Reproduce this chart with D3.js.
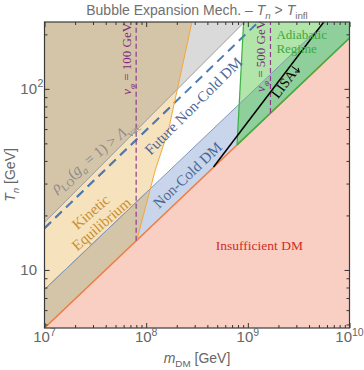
<!DOCTYPE html>
<html>
<head>
<meta charset="utf-8">
<script src="https://cdn.jsdelivr.net/npm/d3@7"></script>
<style>
  body { margin: 0; background: #fff; }
  svg text { font-family: "Liberation Sans", Arial, sans-serif; }
  svg text.serif { font-family: "Liberation Serif", "Times New Roman", serif; }
</style>
</head>
<body>
<svg id="chart" width="364" height="370"></svg>
<script>
// values, [m_DM, T_n] in GeV
const massDomain = [1e7, 1e10];
const tempDomain = [4.78, 234];
const xMajorExp = [7, 8, 9, 10];
const yMajorExp = [1, 2];

const relicLine = [[1e7, 4.78], [1e10, 191]];
const nonColdLine = [[1e7, 7.8], [1e10, 313]];
const vacuumLine = [[1e7, 18.3], [9.4e8, 236]];
const futureLine = [[1e7, 17.0], [1.27e9, 234]];
const kineticLine = [[8.1e7, 14.6], [1.23e8, 35.7], [1.66e8, 59.4], [2.82e8, 234]];
const adiabaticLine = [[7.83e8, 49.1], [9.09e8, 234]];
const lisaLine = [[4.6e8, 37.0], [5.58e9, 234]];
const vphiMasses = [7.97e7, 1.67e9];
const vphiValues = ["100", "500"];

const svg = d3.select("#chart");
const pL = 44.5, pR = 349.5, pT = 22, pB = 328;
const x = d3.scaleLog().domain(massDomain).range([pL, pR]);
const y = d3.scaleLog().domain(tempDomain).range([pB, pT]);
const BIG = 3000, SMALL = 1e6, HUGE = 1e11;

const line = d3.line().x(d => x(d[0])).y(d => y(d[1]));
const poly = pts => line(pts) + "Z";

// T on the relic boundary (straight in log-log)
function relicT(m) {
  const [a, b] = relicLine;
  const s = (Math.log10(b[1]) - Math.log10(a[1])) / (Math.log10(b[0]) - Math.log10(a[0]));
  return Math.pow(10, Math.log10(a[1]) + s * (Math.log10(m) - Math.log10(a[0])));
}

const defs = svg.append("defs");
defs.append("clipPath").attr("id", "plot")
  .append("rect").attr("x", pL).attr("y", pT).attr("width", pR - pL).attr("height", pB - pT);

const aboveRelic = [...relicLine, [1e10, BIG], [1e7, BIG]];
const band = [...relicLine, ...nonColdLine.slice().reverse()];
const vacuumArea = [...vacuumLine, [vacuumLine[1][0], BIG], [SMALL, BIG], [SMALL, vacuumLine[0][1]]];
const kineticArea = [...kineticLine, [kineticLine[3][0], BIG], [1e7, BIG], [1e7, relicT(1e7)]];
const adiabaticArea = [...adiabaticLine, [adiabaticLine[1][0], BIG], [HUGE, BIG], [HUGE, relicT(HUGE)]];

defs.append("clipPath").attr("id", "kin").append("path").attr("d", poly(kineticArea));
defs.append("clipPath").attr("id", "adi").append("path").attr("d", poly(adiabaticArea));

const g = svg.append("g").attr("clip-path", "url(#plot)");

g.append("rect").attr("x", pL).attr("y", pT).attr("width", pR - pL).attr("height", pB - pT)
  .attr("fill", "#f9cfc3");
g.append("path").attr("d", poly(aboveRelic)).attr("fill", "#ffffff");
g.append("path").attr("d", poly(band)).attr("fill", "#c8d5ea");
g.append("path").attr("d", poly(vacuumArea)).attr("fill", "#dadada");
g.append("path").attr("d", poly(kineticArea)).attr("fill", "#f7e2be");

const gk = g.append("g").attr("clip-path", "url(#kin)");
gk.append("path").attr("d", poly(vacuumArea)).attr("fill", "#d4c4a8");
gk.append("path").attr("d", poly(band)).attr("fill", "#d4c4a8");

g.append("path").attr("d", poly(adiabaticArea)).attr("fill", "#b1e5aa");
const ga = g.append("g").attr("clip-path", "url(#adi)");
ga.append("path").attr("d", poly(band)).attr("fill", "#8ecf9b");

// boundary lines
const stroke = (pts, col, w, dash, parent) => (parent || g).append("path").attr("d", line(pts))
  .attr("fill", "none").attr("stroke", col).attr("stroke-width", w).attr("stroke-dasharray", dash || null);

stroke(nonColdLine, "#8397bd", 1);
stroke(nonColdLine, "#a39c90", 1, null, gk);
stroke(vacuumLine, "#9c9c9c", 1);
stroke(futureLine, "#4d7bb3", 2, "9,6");
stroke(futureLine, "#8e8e8e", 2, "9,6", gk);
stroke(relicLine, "#ee7b3f", 1.5);
stroke([[adiabaticLine[0][0], relicT(adiabaticLine[0][0])], relicLine[1]], "#3cb043", 1.5);
stroke(kineticLine, "#f2a63a", 1);
stroke(adiabaticLine, "#3cb043", 1.2);

vphiMasses.forEach(m => {
  stroke([[m, relicT(m)], [m, BIG]], "#8e3b8e", 1.2, "5,3");
});

stroke(lisaLine, "#000", 1.5);

// labels
function rich(sel, parts, fs) {
  let shift = 0;
  parts.forEach(p => {
    const target = p.sub ? fs * 0.3 : (p.sup ? -fs * 0.42 : 0);
    sel.append("tspan").attr("dy", target - shift)
      .attr("font-size", (p.sub || p.sup) ? fs * 0.7 : fs)
      .attr("font-style", p.it ? "italic" : null)
      .text(p.t);
    shift = target;
  });
}

function label(m, T, angle, txt, col, fs, anchor) {
  const t = g.append("text").attr("class", "serif")
    .attr("transform", `translate(${x(m)},${y(T)}) rotate(${angle})`)
    .attr("text-anchor", anchor || "middle").attr("dy", "0.35em")
    .attr("fill", col).attr("font-size", fs);
  if (typeof txt === "string") t.text(txt); else rich(t, txt, fs);
  return t;
}

label(1.30e9, 13.7, 0, "Insufficient DM", "#d42a2a", 13.5);
label(2.54e8, 33.5, -43.5, "Non-Cold DM", "#4b6897", 15);
label(2.90e8, 80.6, -45, "Future Non-Cold DM", "#4b6897", 15);

const kin = g.append("g").attr("transform", `translate(${x(3.21e7)},${y(19.4)}) rotate(-41)`);
kin.append("text").attr("class", "serif").attr("text-anchor", "middle").attr("y", -8).attr("dy", "0.35em")
  .attr("fill", "#c8902f").attr("font-size", 15).text("Kinetic");
kin.append("text").attr("class", "serif").attr("text-anchor", "middle").attr("y", 8).attr("dy", "0.35em")
  .attr("fill", "#c8902f").attr("font-size", 15).text("Equilibrium");

label(3.33e7, 41.0, -39.5, [
  { t: "ρ", it: true }, { t: "LO", sub: true }, { t: "(" }, { t: "g", it: true }, { t: "a", it: true, sub: true },
  { t: " = 1) > " }, { t: "Λ", it: true }, { t: "vac", sub: true }
], "#8a8a8a", 15);

[146.5, 152].forEach((T, i) => {
  const t = g.append("text").attr("class", "serif")
    .attr("transform", `translate(${x(vphiMasses[i]) - 5},${y(T)}) rotate(-90)`)
    .attr("text-anchor", "middle").attr("fill", "#7e2a7e").attr("font-size", 13);
  rich(t, [{ t: "v", it: true }, { t: "φ", it: true, sub: true }, { t: " = " + vphiValues[i] + " GeV" }], 13);
});

g.append("text").attr("class", "serif").attr("x", x(1.91e9)).attr("y", y(189))
  .attr("fill", "#3ea83e").attr("font-size", 13).text("Adiabatic");
g.append("text").attr("class", "serif").attr("x", x(1.91e9)).attr("y", y(157))
  .attr("fill", "#3ea83e").attr("font-size", 13).text("Regime");

const lisa = g.append("g").attr("transform", `translate(${x(2.24e9)},${y(106.6)}) rotate(-52.8)`);
lisa.append("text").attr("class", "serif").attr("text-anchor", "middle").attr("dy", "0.35em")
  .attr("font-size", 14).attr("fill", "#000").text("LISA");
lisa.append("path").attr("d", "M19,-4 L19,5 M16.5,2 L19,5.5 L21.5,2")
  .attr("fill", "none").attr("stroke", "#000").attr("stroke-width", 1);

// axes: inward ticks on all sides
const xMajor = xMajorExp.map(e => Math.pow(10, e));
const yMajor = yMajorExp.map(e => Math.pow(10, e));
const xMinor = x.ticks().filter(v => !xMajor.some(M => Math.abs(M - v) / M < 1e-6));
const yMinor = y.ticks().filter(v => !yMajor.some(M => Math.abs(M - v) / M < 1e-6));

function ticks(axisFn, scale, vals, size, tr) {
  const a = svg.append("g").attr("transform", tr)
    .call(axisFn(scale).tickValues(vals).tickSize(-size).tickFormat(""));
  a.select(".domain").remove();
  a.selectAll("line").attr("stroke", "#333");
}
[[xMajor, yMajor, 5], [xMinor, yMinor, 3]].forEach(([xv, yv, s]) => {
  ticks(d3.axisBottom, x, xv, s, `translate(0,${pB})`);
  ticks(d3.axisTop, x, xv, s, `translate(0,${pT})`);
  ticks(d3.axisLeft, y, yv, s, `translate(${pL},0)`);
  ticks(d3.axisRight, y, yv, s, `translate(${pR},0)`);
});

svg.append("rect").attr("x", pL).attr("y", pT).attr("width", pR - pL).attr("height", pB - pT)
  .attr("fill", "none").attr("stroke", "#3a3a3a").attr("stroke-width", 1.2);

// tick labels
xMajorExp.forEach(e => {
  const t = svg.append("text").attr("x", x(Math.pow(10, e))).attr("y", 342)
    .attr("text-anchor", "middle").attr("fill", "#666").attr("font-size", 15);
  rich(t, [{ t: "10" }, { t: String(e), sup: true }], 15);
});
yMajorExp.forEach(e => {
  svg.append("text").attr("x", 37).attr("y", y(Math.pow(10, e))).attr("dy", "0.35em")
    .attr("text-anchor", "end").attr("fill", "#666").attr("font-size", 15).text("10");
  if (e > 1) {
    svg.append("text").attr("x", 37.5).attr("y", y(Math.pow(10, e)) - 2)
      .attr("fill", "#666").attr("font-size", 10.5).text(String(e));
  }
});

// titles
const title = svg.append("text").attr("x", 197).attr("y", 15).attr("text-anchor", "middle")
  .attr("fill", "#707070").attr("font-size", 14);
rich(title, [{ t: "Bubble Expansion Mech. – " }, { t: "T", it: true }, { t: "n", it: true, sub: true },
  { t: " > " }, { t: "T", it: true }, { t: "infl", sub: true }], 14);

const xt = svg.append("text").attr("x", 197).attr("y", 363).attr("text-anchor", "middle")
  .attr("fill", "#666").attr("font-size", 14);
rich(xt, [{ t: "m", it: true }, { t: "DM", sub: true }, { t: " [GeV]" }], 14);

const yt = svg.append("text").attr("transform", `translate(15,175) rotate(-90)`).attr("text-anchor", "middle")
  .attr("fill", "#666").attr("font-size", 14);
rich(yt, [{ t: "T", it: true }, { t: "n", it: true, sub: true }, { t: " [GeV]" }], 14);
</script>
</body>
</html>
